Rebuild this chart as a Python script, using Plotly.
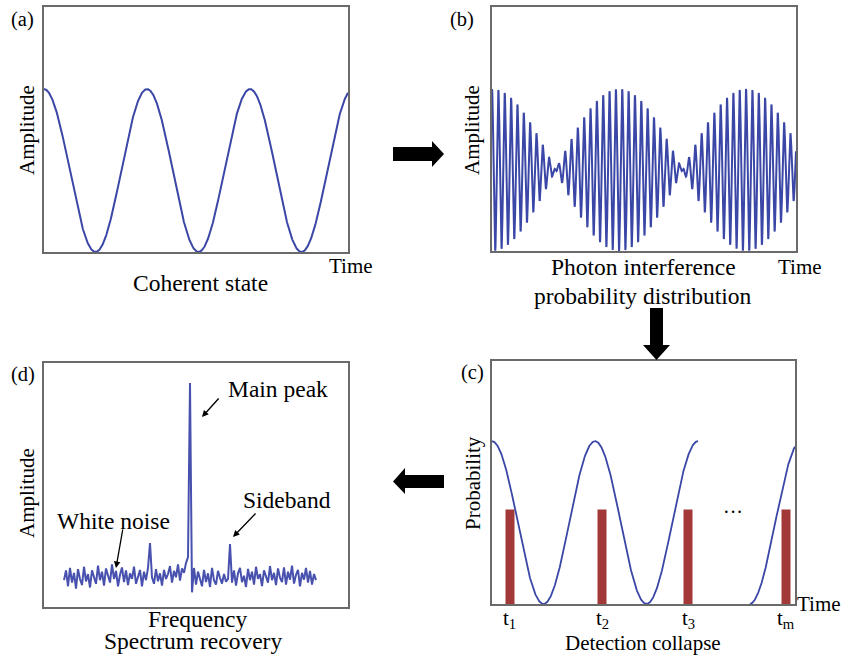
import numpy as np
import plotly.graph_objects as go

W, H = 842, 660
BLUE = "#3b47a6"
RED = "#a33838"
BOX = "#6a6a6a"
FONT = "Liberation Serif"

# ---- data ----
# (a) coherent state: cosine, period in px-units of the panel
a_period = 103.0
a_span = 304.0
# (b) beating signal: envelope half-period and carrier period
b_env_half = 127.0
b_carrier = 6.35
b_span = 304.0
# (c) probability curve segments and detection bars
c_period = 103.0
c_segments = [(0.0, 206.0), (258.0, 303.0)]
c_bar_x = [18, 110, 196, 294]
c_bar_h = [0.58, 0.58, 0.58, 0.58]
c_bar_labels = ["t<sub>1</sub>", "t<sub>2</sub>", "t<sub>3</sub>", "t<sub>m</sub>"]
# (d) spectrum: frequency grid and amplitudes (noise + peaks)
d_freq_start, d_freq_step = 20, 2
d_amp = [
    0.110, 0.150, 0.085, 0.160, 0.100, 0.140, 0.075, 0.155, 0.115, 0.090,
    0.165, 0.105, 0.135, 0.080, 0.150, 0.125, 0.095, 0.170, 0.110, 0.145,
    0.088, 0.158, 0.128, 0.100, 0.175, 0.115, 0.148, 0.085, 0.132, 0.162,
    0.102, 0.150, 0.090, 0.138, 0.115, 0.165, 0.095, 0.128, 0.152, 0.085,
    0.145, 0.110, 0.160, 0.262, 0.122, 0.095, 0.155, 0.105, 0.138, 0.088,
    0.152, 0.115, 0.135, 0.168, 0.100, 0.148, 0.122, 0.175, 0.108, 0.158,
    0.140, 0.180, 0.205, 0.918, 0.060, 0.160, 0.092, 0.145, 0.112, 0.085,
    0.152, 0.102, 0.138, 0.082, 0.160, 0.110, 0.092, 0.148, 0.120, 0.096,
    0.135, 0.104, 0.115, 0.258, 0.100, 0.150, 0.088, 0.138, 0.160, 0.102,
    0.128, 0.082, 0.156, 0.110, 0.145, 0.092, 0.165, 0.115, 0.135, 0.086,
    0.150, 0.122, 0.100, 0.168, 0.110, 0.140, 0.090, 0.158, 0.120, 0.102,
    0.162, 0.092, 0.145, 0.112, 0.170, 0.096, 0.132, 0.152, 0.085, 0.140,
    0.112, 0.160, 0.100, 0.148, 0.092, 0.135, 0.110,
]
d_freq = [d_freq_start + d_freq_step * i for i in range(len(d_amp))]


def px(x):
    return x / W


def py(y):
    return 1 - y / H


fig = go.Figure()

# (a)
xa = np.linspace(0, a_span, 1500)
ya = (1 + np.cos(2 * np.pi * xa / a_period)) / 2
fig.add_trace(go.Scatter(x=xa, y=ya, mode="lines", line=dict(color=BLUE, width=2),
                         xaxis="x", yaxis="y", hoverinfo="skip"))

# (b)
xb = np.linspace(0, b_span, 6000)
yb = np.cos(np.pi * xb / b_env_half) * np.cos(2 * np.pi * xb / b_carrier)
fig.add_trace(go.Scatter(x=xb, y=yb, mode="lines", line=dict(color=BLUE, width=2),
                         xaxis="x2", yaxis="y2", hoverinfo="skip"))

# (c)
fig.add_trace(go.Bar(x=c_bar_x, y=c_bar_h, width=9, marker=dict(color=RED, line=dict(width=0)),
                     xaxis="x3", yaxis="y3", hoverinfo="skip"))
for s0, s1 in c_segments:
    xc = np.linspace(s0, s1, 600)
    yc = (1 + np.cos(2 * np.pi * xc / c_period)) / 2
    fig.add_trace(go.Scatter(x=xc, y=yc, mode="lines", line=dict(color=BLUE, width=1.8),
                             xaxis="x3", yaxis="y3", hoverinfo="skip"))

# (d)
fig.add_trace(go.Scatter(x=d_freq, y=d_amp, mode="lines", line=dict(color="#4852ae", width=2),
                         xaxis="x4", yaxis="y4", hoverinfo="skip"))


def ax(dom_x, rng):
    return dict(domain=[px(dom_x[0]), px(dom_x[1])], range=rng, showline=True, mirror=True,
                linecolor=BOX, linewidth=1.5, showgrid=False, zeroline=False,
                showticklabels=False, ticks="", fixedrange=True)


def ay(dom_y, rng):
    return dict(domain=[py(dom_y[1]), py(dom_y[0])], range=rng, showline=True, mirror=True,
                linecolor=BOX, linewidth=1.5, showgrid=False, zeroline=False,
                showticklabels=False, ticks="", fixedrange=True)


layout = dict(
    width=W, height=H, margin=dict(l=0, r=0, t=0, b=0),
    paper_bgcolor="white", plot_bgcolor="white", showlegend=False,
    font=dict(family=FONT, size=21, color="black"),
    xaxis=ax((44, 348), [0, a_span]), yaxis=ay((7, 252), [0, 1 / 0.665]),
    xaxis2=dict(ax((492, 796), [0, b_span]), anchor="y2"),
    yaxis2=dict(ay((7, 251), [-1, -1 + 2 / 0.664]), anchor="x2"),
    xaxis3=dict(ax((492, 795), [0, 303]), anchor="y3"),
    yaxis3=dict(ay((361, 604), [0, 1 / 0.67]), anchor="x3"),
    xaxis4=dict(ax((44, 348), [0, 304]), anchor="y4"),
    yaxis4=dict(ay((363, 607), [0, 1]), anchor="x4"),
)
fig.update_layout(**layout)

annotations = []


def txt(t, x, y, size=23.5, angle=0, xanchor="center"):
    annotations.append(dict(text=t, x=px(x), y=py(y), xref="paper", yref="paper",
                            showarrow=False, xanchor=xanchor, yanchor="middle",
                            textangle=angle, font=dict(family=FONT, size=size, color="black")))


txt("(a)", 22, 20, size=20.5)
txt("Amplitude", 27, 130, size=21, angle=-90)
txt("Time", 351, 266, size=21)
txt("Coherent state", 200, 283)

txt("(b)", 462, 20, size=20.5)
txt("Amplitude", 472, 130, size=21, angle=-90)
txt("Time", 800, 267, size=21)
txt("Photon interference", 643, 267)
txt("probability distribution", 643, 296)

txt("(c)", 472, 372, size=20.5)
txt("Probability", 473, 483, size=21, angle=-90)
txt("Time", 819, 604, size=21)
txt("···", 733, 512, size=20)
for xb_, lab in zip(c_bar_x, c_bar_labels):
    annotations.append(dict(text=lab, x=xb_, y=0, xref="x3", yref="y3", showarrow=False,
                            xanchor="center", yanchor="top", yshift=0,
                            font=dict(family=FONT, size=21, color="black")))
txt("Detection collapse", 643, 643, size=21)

txt("(d)", 23, 374, size=20.5)
txt("Amplitude", 27, 493, size=21, angle=-90)
txt("Frequency", 197, 619)
txt("Spectrum recovery", 193, 641)
txt("Main peak", 278, 389)
txt("Sideband", 287, 500)
txt("White noise", 113, 521)


def arrow(hx, hy, tx, ty):
    annotations.append(dict(text="", x=px(hx), y=py(hy), xref="paper", yref="paper",
                            ax=tx - hx, ay=ty - hy, axref="pixel", ayref="pixel",
                            showarrow=True, arrowhead=2, arrowsize=1, arrowwidth=1.3,
                            arrowcolor="black"))


arrow(202, 417, 220, 397)
arrow(233, 537, 257, 512)
arrow(116, 568, 123, 528)

fig.update_layout(annotations=annotations)


def poly(pts):
    d = "M " + " L ".join(f"{px(x):.5f},{py(y):.5f}" for x, y in pts) + " Z"
    return dict(type="path", path=d, xref="paper", yref="paper",
                fillcolor="black", line=dict(color="black", width=0))


fig.update_layout(shapes=[
    poly([(393, 147), (432, 147), (432, 141), (444, 154), (432, 167), (432, 161), (393, 161)]),
    poly([(650, 308), (663, 308), (663, 345), (670, 345), (656.5, 360), (643, 345), (650, 345)]),
    poly([(444, 475), (405, 475), (405, 468), (393, 481.5), (405, 494), (405, 488), (444, 488)]),
])

fig.write_html("out.html")
